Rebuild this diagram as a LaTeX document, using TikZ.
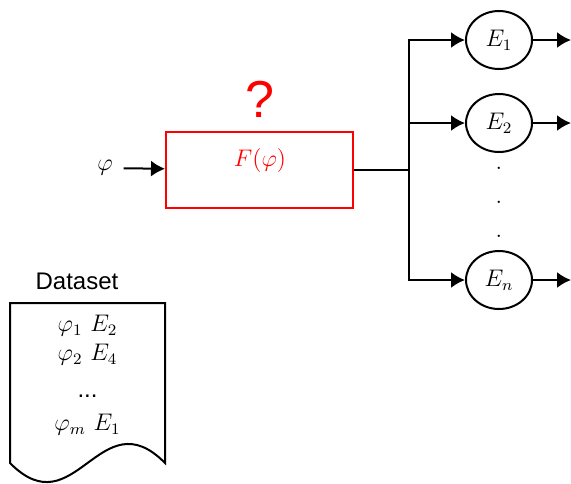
\documentclass[tikz,border=0pt]{standalone}
\usepackage{fontspec}
\setsansfont{Liberation Sans}
\usetikzlibrary{positioning, shapes.geometric, arrows.meta}

\begin{document}
\begin{tikzpicture}[x=0.5pt, y=-0.5pt, line width=1pt, >={Latex[length=7pt,width=8pt]}, font=\fontsize{12}{14}\selectfont]
        \useasboundingbox (0,0) rectangle (571,483);
        \node[inner sep=5pt] (phi) at (105,168) {$\varphi$};
        \node[draw=red, rectangle, minimum width=93.5pt, minimum height=38pt] (fbox) at (259.5,170) {};
        \node[red] (ftext) at (260,160) {$F(\varphi)$};
        \node[red, font=\sffamily\fontsize{26}{30}\selectfont] (quest) at (260,99) {?};
        \coordinate (bus) at (409,170);
        \node[draw, ellipse, minimum width=33pt, minimum height=29pt, inner sep=0pt] (e1) at (499,40) {$E_1$};
        \node[draw, ellipse, minimum width=33pt, minimum height=29pt, inner sep=0pt] (e2) at (499,123) {$E_2$};
        \node[draw, ellipse, minimum width=33pt, minimum height=29pt, inner sep=0pt] (en) at (499,280) {$E_n$};
        \node[inner sep=0pt] (dot1) at (499,168) {.};
        \node[inner sep=0pt] (dot2) at (499,202) {.};
        \node[inner sep=0pt] (dot3) at (499,236) {.};
        \coordinate (o1) at (571,40);
        \coordinate (o2) at (571,123);
        \coordinate (on) at (571,280);

        % dataset
        \node[font=\sffamily\fontsize{12}{14}\selectfont] (dtitle) at (77,281) {Dataset};
        \draw (10,303) -- (165,303) -- (165,463) .. controls (100,397) and (75,529) .. (10,463) -- cycle;
        \node (d1) at (87.5,326) {$\varphi_1\ E_2$};
        \node (d2) at (87.5,355) {$\varphi_2\ E_4$};
        \node[font=\sffamily\fontsize{12}{14}\selectfont] (d3) at (87.5,396) {...};
        \node (d4) at (87.5,425) {$\varphi_m\ E_1$};

        \draw[->] (phi) -- (fbox);
        \draw (fbox) -- (bus);
        \draw[->] (bus) |- (e1);
        \draw[->] (bus) |- (e2);
        \draw[->] (bus) |- (en);
        \draw[->] (e1) -- (o1);
        \draw[->] (e2) -- (o2);
        \draw[->] (en) -- (on);
    \end{tikzpicture}
\end{document}
